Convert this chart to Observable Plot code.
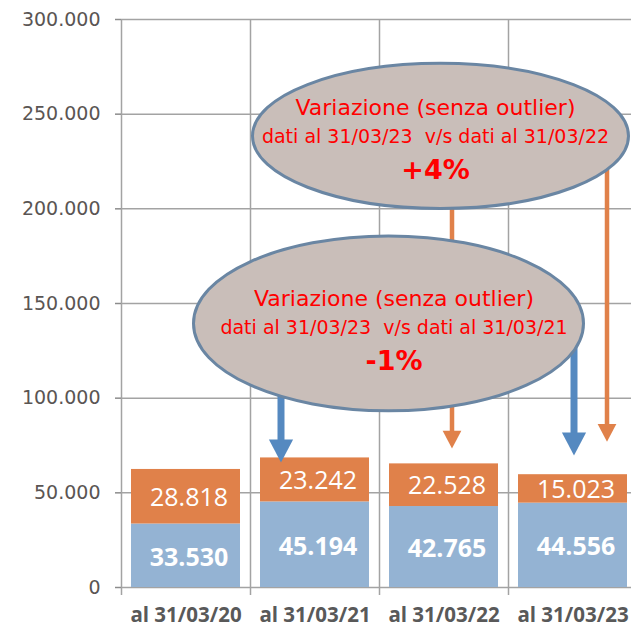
<!DOCTYPE html>
<html>
<head>
<meta charset="utf-8">
<script src="https://cdn.jsdelivr.net/npm/d3@7"></script>
<script src="https://cdn.jsdelivr.net/npm/@observablehq/plot@0.6"></script>
<style>
  html, body { margin: 0; padding: 0; background: #ffffff; }
</style>
</head>
<body>
<div id="chart"></div>
<script>
// ---------- data ----------
const categories = ["al 31/03/20", "al 31/03/21", "al 31/03/22", "al 31/03/23"];
const seriesNames = ["senza outlier", "outlier"];
const blueValues = [33530, 45194, 42765, 44556];
const orangeValues = [28818, 23242, 22528, 15023];
const yTicks = [0, 50000, 100000, 150000, 200000, 250000, 300000];

// annotation bubbles (anchored in data space)
const bubbleTitles = ["Variazione (senza outlier)", "Variazione (senza outlier)"];
const bubbleSubtitles = ["dati al 31/03/23  v/s dati al 31/03/22", "dati al 31/03/23  v/s dati al 31/03/21"];
const bubblePercents = ["+4%", "-1%"];
const bubbleCategory = ["al 31/03/22", "al 31/03/22"];
const bubbleCenterValue = [238500, 139500];

// arrows (anchored in data space)
const arrowCategory = ["al 31/03/22", "al 31/03/23", "al 31/03/21", "al 31/03/23"];
const arrowColorKey = ["outlier", "outlier", "senza outlier", "senza outlier"];
const arrowFrom = [238000, 238000, 139500, 139500];
const arrowTip = [73400, 77000, 66000, 69700];

// ---------- styling ----------
const BLUE = "#94b3d3";
const ORANGE = "#e0814a";
const ARROW_BLUE = "#5589c0";
const GRID = "#a3a3a3";
const X0 = 121, X1 = 637;
const step = (X1 - X0) / categories.length;

const fmt = d3.formatLocale({decimal: ",", thousands: ".", grouping: [3], currency: ["€", ""]}).format(",d");

const rows = categories.flatMap((c, i) => [
  {cat: c, serie: seriesNames[0], y1: 0, y2: blueValues[i], v: blueValues[i]},
  {cat: c, serie: seriesNames[1], y1: blueValues[i], y2: blueValues[i] + orangeValues[i], v: orangeValues[i]}
]);

const bubbles = bubbleTitles.map((t, i) => ({
  title: t, sub: bubbleSubtitles[i], pct: bubblePercents[i], cat: bubbleCategory[i], y: bubbleCenterValue[i]
}));
const arrows = arrowCategory.map((c, i) => ({cat: c, key: arrowColorKey[i], from: arrowFrom[i], tip: arrowTip[i]}));

// custom symbols
function ellipseSymbol(ratio) {
  return {
    draw(ctx, size) {
      const rx = Math.sqrt(size / Math.PI), ry = rx / ratio, k = 0.5523;
      ctx.moveTo(rx, 0);
      ctx.bezierCurveTo(rx, ry * k, rx * k, ry, 0, ry);
      ctx.bezierCurveTo(-rx * k, ry, -rx, ry * k, -rx, 0);
      ctx.bezierCurveTo(-rx, -ry * k, -rx * k, -ry, 0, -ry);
      ctx.bezierCurveTo(rx * k, -ry, rx, -ry * k, rx, 0);
      ctx.closePath();
    }
  };
}
const arrowHead = {
  draw(ctx, size) {
    const s = Math.sqrt(size / Math.PI);
    ctx.moveTo(0, 0);
    ctx.lineTo(-s, -1.9 * s);
    ctx.lineTo(s, -1.9 * s);
    ctx.closePath();
  }
};

function arrowMarks(a, dx, color, width, head) {
  return [
    Plot.ruleX([a], {x: "cat", y1: "from", y2: "tip", dx, stroke: color, strokeWidth: width, insetBottom: head}),
    Plot.dot([a], {x: "cat", y: "tip", dx, symbol: arrowHead, r: head * 0.55, fill: color, stroke: "none"})
  ];
}

function bubbleMarks(b, opts) {
  const txt = {x: "cat", y: "y", fill: "#ff0000", fontFamily: "DejaVu Sans", dx: opts.tdx};
  return [
    Plot.dot([b], {x: "cat", y: "y", dx: opts.dx, symbol: ellipseSymbol(opts.ratio), r: opts.rx,
      fill: "#c9beb9", stroke: "#6a86a3", strokeWidth: 3}),
    Plot.text([b], {...txt, text: "title", dy: opts.dyTitle, fontSize: 22}),
    Plot.text([b], {...txt, text: "sub", dy: opts.dySub, fontSize: 19}),
    Plot.text([b], {...txt, text: "pct", dy: opts.dyPct, fontSize: 27, fontWeight: "bold"})
  ];
}

const chart = Plot.plot({
  width: 631,
  height: 627,
  marginLeft: X0,
  marginRight: 0,
  marginTop: 19,
  marginBottom: 40,
  style: {fontFamily: "DejaVu Sans", background: "#ffffff", whiteSpace: "pre"},
  x: {domain: categories, range: [X0, X1], paddingInner: 0.155, paddingOuter: 0.0775, label: null},
  y: {domain: [0, 300000], label: null},
  color: {domain: seriesNames, range: [BLUE, ORANGE]},
  marks: [
    Plot.gridY(yTicks, {stroke: GRID, strokeOpacity: 1, strokeWidth: 1.5}),
    Plot.ruleX(categories, {x: d => d, dx: -step / 2, stroke: GRID, strokeWidth: 1.5, insetBottom: -8}),
    Plot.barY(rows, {x: "cat", y1: "y1", y2: "y2", fill: "serie"}),
    Plot.text(rows.filter(d => d.serie === seriesNames[1]), {
      x: "cat", y: d => (d.y1 + d.y2) / 2, text: d => fmt(d.v), dx: 3, dy: 1,
      fill: "#ffffff", fontSize: 25, fontFamily: "Open Sans"
    }),
    Plot.text(rows.filter(d => d.serie === seriesNames[0]), {
      x: "cat", y: d => (d.y1 + d.y2) / 2, text: d => fmt(d.v), dx: 3, dy: 2,
      fill: "#ffffff", fontSize: 25, fontWeight: "bold", fontFamily: "Open Sans"
    }),
    Plot.axisY({ticks: yTicks, tickFormat: fmt, tickSize: 6, tickPadding: 15, stroke: "#8c8c8c",
      strokeWidth: 1.5, fill: "#5a5553", fontSize: 19, fontFamily: "DejaVu Sans", label: null}),
    Plot.axisX({tickSize: 0, tickPadding: 20, fill: "#595959", fontSize: 20.5, fontWeight: "bold",
      fontFamily: "Open Sans", label: null}),
    // orange arrows (behind both bubbles)
    ...arrowMarks(arrows[0], 8, ORANGE, 4.5, 17),
    ...arrowMarks(arrows[1], 34, ORANGE, 4.5, 17),
    // upper bubble
    ...bubbleMarks(bubbles[0], {dx: -3.5, tdx: -8.5, ratio: 2.59, rx: 188, dyTitle: -28, dySub: 1, dyPct: 34}),
    // blue arrows (behind lower bubble)
    ...arrowMarks(arrows[2], -34, ARROW_BLUE, 7, 22),
    ...arrowMarks(arrows[3], 1, ARROW_BLUE, 7, 22),
    // lower bubble
    ...bubbleMarks(bubbles[1], {dx: -55.5, tdx: -50, ratio: 2.23, rx: 195, dyTitle: -24, dySub: 5, dyPct: 38})
  ]
});

document.getElementById("chart").appendChild(chart);
</script>
</body>
</html>
